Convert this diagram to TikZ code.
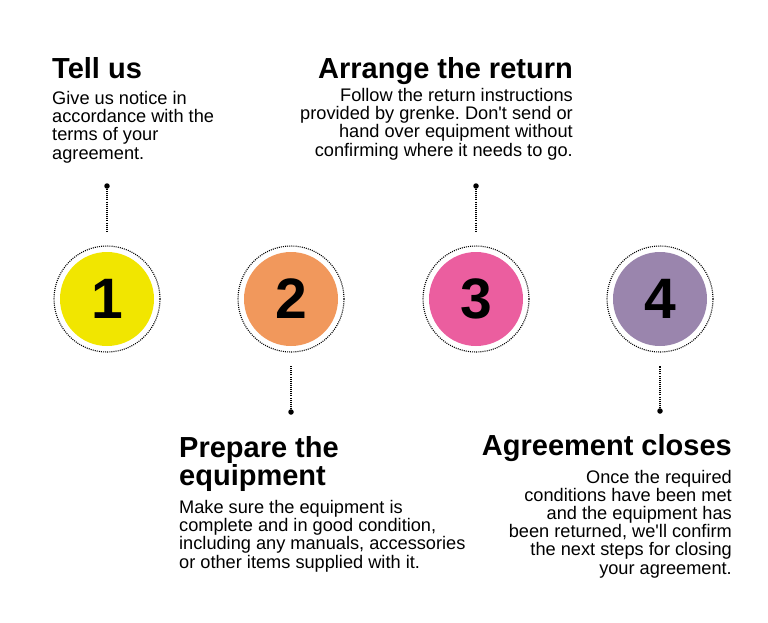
\documentclass[tikz,border=0pt]{standalone}
\usepackage{fontspec}
\setmainfont{Liberation Sans}
\usepackage{tikz}
\definecolor{stepyellow}{RGB}{241,230,0}
\definecolor{steporange}{RGB}{241,152,92}
\definecolor{steppink}{RGB}{235,94,159}
\definecolor{steppurple}{RGB}{154,133,173}
\frenchspacing

\tikzset{
  ring/.style={circle, draw, line width=1.1pt, dash pattern=on 1pt off 1.1pt,
    minimum size=106pt, inner sep=0pt, outer sep=14pt,
    font=\fontsize{57}{57}\selectfont\bfseries,
    path picture={\fill[#1] (path picture bounding box.center) circle (47pt);}},
  stepdot/.style={circle, fill, inner sep=0pt, minimum size=5.5pt},
  dotline/.style={line width=1.1pt, dash pattern=on 1pt off 1.1pt},
  title/.style={inner sep=0pt, font=\fontsize{29}{28}\selectfont\bfseries},
  body/.style={inner sep=0pt, font=\fontsize{18.2}{18.2}\selectfont}
}

\begin{document}
\begin{tikzpicture}[x=1pt, y=-1pt]
  \fill[white] (0,0) rectangle (768,622);
  \useasboundingbox (0,0) rectangle (768,622);

  % the four steps
  \node[ring=stepyellow] (c1) at (107,299) {1};
  \node[ring=steporange] (c2) at (291,299) {2};
  \node[ring=steppink]   (c3) at (476,299) {3};
  \node[ring=steppurple] (c4) at (660,299) {4};

  \node[stepdot] (d1) at (107,186) {};
  \node[stepdot] (d2) at (291,412) {};
  \node[stepdot] (d3) at (476,186) {};
  \node[stepdot] (d4) at (660,411) {};

  \draw[dotline] (d1) -- (c1);
  \draw[dotline] (d2) -- (c2);
  \draw[dotline] (d3) -- (c3);
  \draw[dotline] (d4) -- (c4);

  % texts above (base = last line)
  \node[title, anchor=base west] (tell) at (52,78) {Tell us};
  \node[body, anchor=base west, align=left] (tell-txt) at (52,159)
    {Give us notice in\\accordance with the\\terms of your\\agreement.};

  \node[title, anchor=base east] (return) at (573,78) {Arrange the return};
  \node[body, anchor=base east, align=right] (return-txt) at (573,156)
    {Follow the return instructions\\provided by grenke. Don\textquotesingle t send or\\hand over equipment without\\confirming where it needs to go.};

  % texts below
  \node[title, anchor=base west, align=left] (prepare) at (179,485)
    {Prepare the\\equipment};
  \node[body, anchor=base west, align=left] (prepare-txt) at (179,568)
    {Make sure the equipment is\\complete and in good condition,\\including any manuals, accessories\\or other items supplied with it.};

  \node[title, anchor=base east] (closes) at (732,455) {Agreement closes};
  \node[body, anchor=base east, align=right] (closes-txt) at (732,574)
    {Once the required\\conditions have been met\\and the equipment has\\been returned, we\textquotesingle ll confirm\\the next steps for closing\\your agreement.};
\end{tikzpicture}
\end{document}
